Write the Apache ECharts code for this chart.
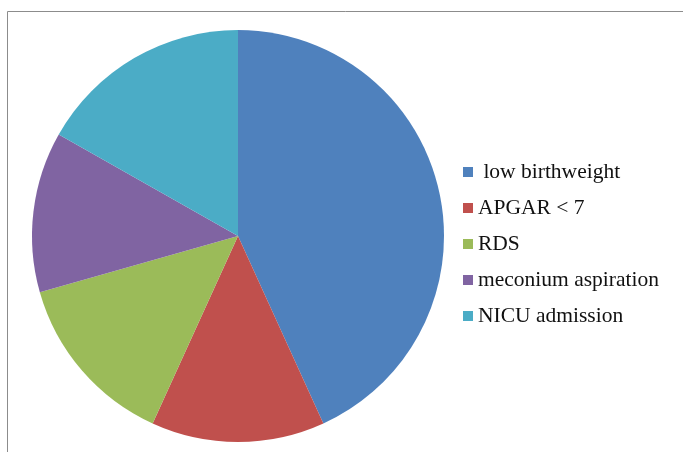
<!DOCTYPE html>
<html>
<head>
<meta charset="utf-8">
<title>Pie</title>
<script src="https://cdn.jsdelivr.net/npm/echarts@6/dist/echarts.min.js"></script>
<style>
  html, body { margin: 0; padding: 0; background: #fff; }
  #main { width: 683px; height: 452px; }
</style>
</head>
<body>
<div id="main"></div>
<script>
// data (share of whole, %)
var categories = [' low birthweight', 'APGAR < 7', 'RDS', 'meconium aspiration', 'NICU admission'];
var values = [43.2, 13.6, 13.8, 12.6, 16.8];
var colors = ['#4F81BD', '#C0504D', '#9BBB59', '#8064A2', '#4BACC6'];

var chart = echarts.init(document.getElementById('main'));

var pieData = categories.map(function (name, i) {
  return { name: name, value: values[i], itemStyle: { color: colors[i] } };
});

var option = {
  animation: false,
  graphic: [{
    type: 'rect',
    shape: { x: 7.5, y: 11.5, width: 700, height: 460 },
    style: { fill: 'none', stroke: '#8c8c8c', lineWidth: 1 },
    silent: true
  }],
  legend: {
    orient: 'vertical',
    left: 458,
    top: 156,
    itemWidth: 10,
    itemHeight: 10,
    itemGap: 14,
    icon: 'rect',
    data: categories,
    textStyle: {
      fontFamily: 'Liberation Serif',
      fontSize: 21.5,
      lineHeight: 22,
      color: '#111'
    }
  },
  series: [{
    type: 'pie',
    center: [238, 236],
    radius: [0, 206],
    startAngle: 90,
    clockwise: true,
    label: { show: false },
    labelLine: { show: false },
    itemStyle: { borderWidth: 0 },
    emphasis: { disabled: true },
    data: pieData
  }]
};

chart.setOption(option);
</script>
</body>
</html>
